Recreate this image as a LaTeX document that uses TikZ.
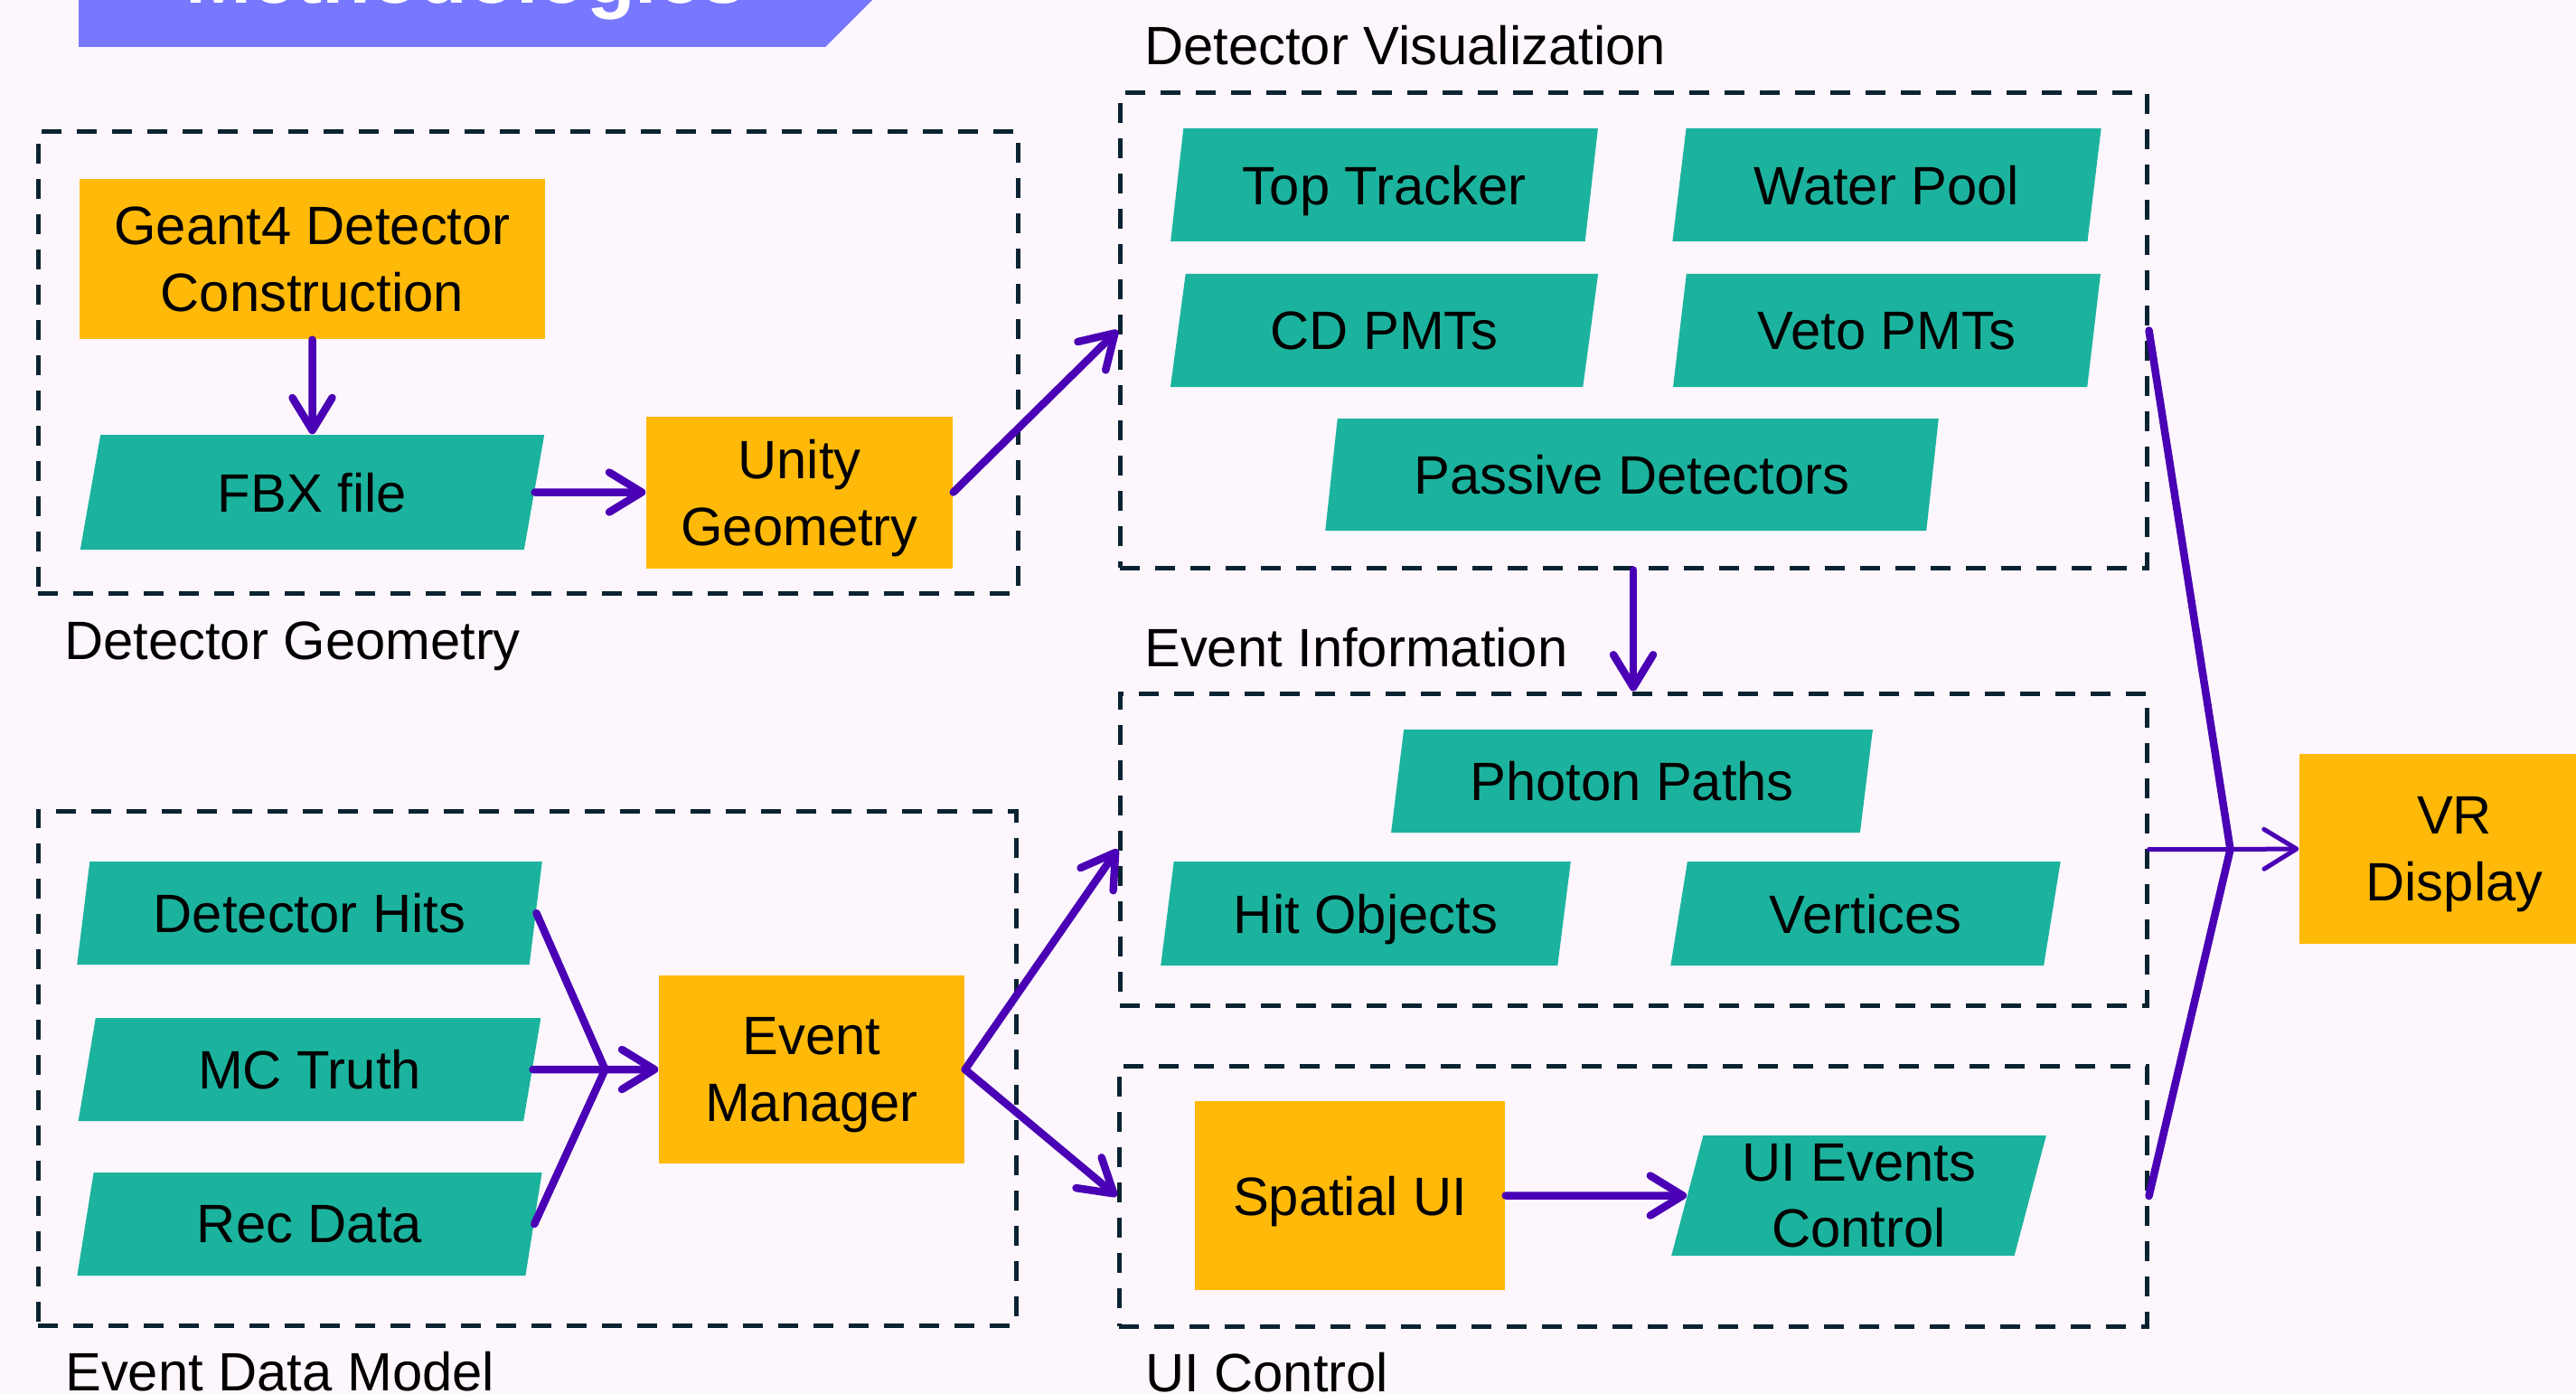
\documentclass[tikz,border=0pt]{standalone}
\usepackage{fontspec}
\setmainfont{Liberation Sans}
\usetikzlibrary{calc, shapes.geometric, arrows.meta}
\definecolor{bgpink}{RGB}{254,246,253}
\definecolor{bannerblue}{RGB}{120,120,255}
\definecolor{boxorange}{RGB}{255,185,8}
\definecolor{dataTeal}{RGB}{27,179,158}
\definecolor{flowpurple}{RGB}{74,0,180}
\definecolor{dashnavy}{RGB}{10,35,50}

\begin{document}
\begin{tikzpicture}[every node/.style={font=\fontsize{17}{21}\selectfont}, >={Straight Barb[length=3.6mm,width=4.4mm,round]}]
\tikzstyle{proc} = [rectangle, fill=boxorange, minimum width=3.39cm, minimum height=1.68cm, align=center, inner sep=0pt, text depth=0pt]
\tikzstyle{data} = [trapezium, trapezium left angle=77, trapezium right angle=103, trapezium stretches=true, fill=dataTeal, minimum width=4.75cm, minimum height=1.25cm, align=center, inner sep=0pt, text depth=0pt]
\tikzstyle{group} = [rectangle, draw=dashnavy, line width=.05cm, dash pattern=on .22cm off .17cm, inner sep=0pt]
\tikzstyle{lbl} = [anchor=base west, inner sep=0pt]
\tikzstyle{flow} = [->, draw=flowpurple, line width=.085cm, line cap=round]

\fill[bgpink] (0,0) rectangle (28.5,-15.42);
\useasboundingbox (0,0) rectangle (28.5,-15.42);

% banner at the top
\fill[bannerblue] (0.87,-0.52) -- (9.13,-0.52) -- (9.85,0.2) -- (0.87,0.2) -- cycle;
\node (banner) [anchor=base, inner sep=0pt, text=white, font=\fontsize{25}{25}\selectfont\bfseries] at (5.15,-0.04) {Methodologies};

% dashed groups
\node (geo) [group, minimum width=10.84cm, minimum height=5.10cm] at (5.84,-4.01) {};
\node (edm) [group, minimum width=10.82cm, minimum height=5.69cm] at (5.83,-11.815) {};
\node (vis) [group, minimum width=11.36cm, minimum height=5.25cm] at (18.07,-3.655) {};
\node (info) [group, minimum width=11.36cm, minimum height=3.45cm] at (18.07,-9.395) {};
\node (ui) [group, minimum width=11.37cm, minimum height=2.88cm] at (18.065,-13.23) {};

\node (geolbl) [lbl, xshift=.31cm, yshift=-.71cm] at (geo.south west) {Detector Geometry};
\node (edmlbl) [lbl, xshift=.32cm, yshift=-.695cm] at (edm.south west) {Event Data Model};
\node (vislbl) [lbl, xshift=.29cm, yshift=.29cm] at (vis.north west) {Detector Visualization};
\node (infolbl) [lbl, xshift=.29cm, yshift=.27cm] at (info.north west) {Event Information};
\node (uilbl) [lbl, xshift=.31cm, yshift=-.70cm] at (ui.south west) {UI Control};

% detector geometry
\node (geant) [proc, minimum width=5.15cm, minimum height=1.77cm] at (3.455,-2.865) {Geant4 Detector\\Construction};
\node (fbx) [data, below of=geant, yshift=-1.58cm, minimum width=5.15cm, minimum height=1.27cm] {FBX file};
\node (unity) [proc, right of=fbx, xshift=4.39cm] {Unity\\Geometry};

% detector visualization
\node (toptr) [data] at (15.315,-2.045) {Top Tracker};
\node (water) [data, right of=toptr, xshift=4.56cm] {Water Pool};
\node (cdpmt) [data, below of=toptr, yshift=-.61cm] {CD PMTs};
\node (veto) [data, right of=cdpmt, xshift=4.56cm] {Veto PMTs};
\node (passive) [data, below of=cdpmt, xshift=2.74cm, yshift=-.595cm, minimum width=6.79cm, minimum height=1.24cm] {Passive Detectors};

% event information
\node (photon) [data, below of=passive, yshift=-2.39cm, minimum width=5.33cm, minimum height=1.14cm] {Photon Paths};
\node (hitobj) [data, below of=photon, xshift=-2.945cm, yshift=-.465cm, minimum width=4.56cm, minimum height=1.15cm] {Hit Objects};
\node (vertices) [data, right of=hitobj, xshift=4.53cm, minimum width=4.32cm, minimum height=1.15cm] {Vertices};

% event data model
\node (dethits) [data, minimum width=5.15cm, minimum height=1.14cm] at (3.425,-10.10) {Detector Hits};
\node (mctruth) [data, below of=dethits, yshift=-.73cm, minimum width=5.15cm, minimum height=1.14cm] {MC Truth};
\node (recdata) [data, below of=mctruth, yshift=-.71cm, minimum width=5.15cm, minimum height=1.14cm] {Rec Data};
\node (evman) [proc, right of=mctruth, xshift=4.555cm, minimum width=3.38cm, minimum height=2.08cm] {Event\\Manager};

% ui control
\node (spatial) [proc, minimum width=3.43cm, minimum height=2.09cm] at (14.935,-13.225) {Spatial UI};
\node (uievents) [data, right of=spatial, xshift=4.63cm, minimum width=4.17cm, minimum height=1.33cm] {UI Events\\Control};

% output
\node (vr) [proc, minimum width=3.43cm, minimum height=2.10cm] at (27.155,-9.39) {VR\\Display};

\coordinate (edmjoin) at ($(mctruth.east) + (.8, 0)$);
\coordinate (vrjoin) at ($(info.east) + (.9, 0)$);

\draw[flow] (geant) -- (fbx);
\draw[flow] (fbx) -- (unity);
\draw[flow] (unity.east) -- (vis.west);
\draw[flow] (vis.south) -- (info.north);

\draw[flow, -] (dethits.east) -- (edmjoin);
\draw[flow, -] (recdata.east) -- (edmjoin);
\draw[flow] (mctruth.east) -- (evman.west);
\draw[flow] (evman.east) -- (info.west);
\draw[flow] (evman.east) -- (ui.west);
\draw[flow] (spatial) -- (uievents);

\draw[flow, -] (vis.east) -- (vrjoin);
\draw[flow, -] (ui.east) -- (vrjoin);
\draw[flow, line width=.05cm] (info.east) -- (vrjoin) -- (vr.west);

\end{tikzpicture}
\end{document}
